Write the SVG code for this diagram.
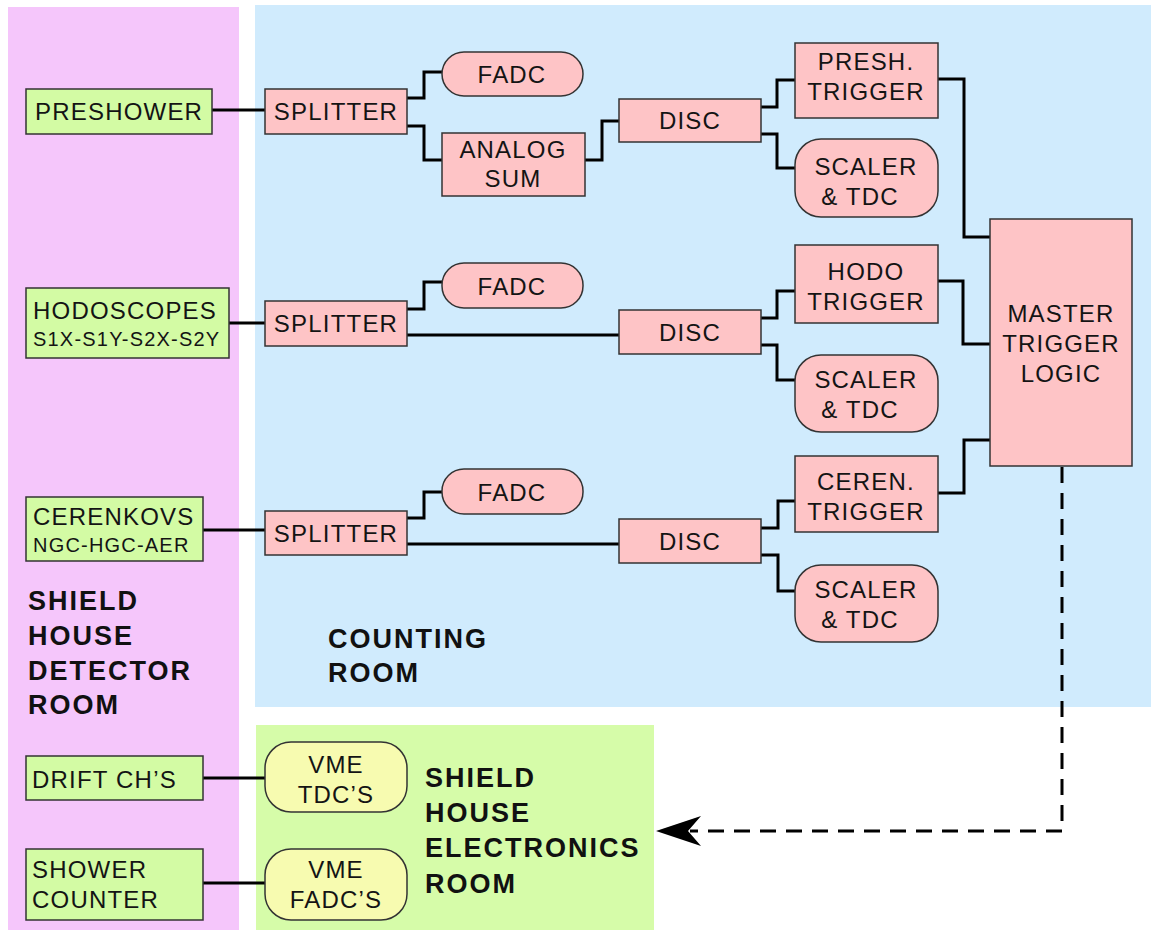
<svg xmlns="http://www.w3.org/2000/svg" width="1151" height="932" viewBox="0 0 1151 932">
<style>
.bg{stroke:none}
.g{fill:#d3fba4;stroke:#333;stroke-width:1.5}
.p{fill:#fec4c6;stroke:#333;stroke-width:1.5}
.y{fill:#f7fbb0;stroke:#333;stroke-width:1.5}
.t{font-family:"Liberation Sans",Arial,sans-serif;font-size:24px;letter-spacing:1.2px;fill:#141414}
.c{text-anchor:middle}
.s{font-size:20px}
.b{font-family:"Liberation Sans",Arial,sans-serif;font-weight:bold;font-size:27px;letter-spacing:2px;fill:#111}
.w{fill:none;stroke:#000;stroke-width:3}
.d{fill:none;stroke:#000;stroke-width:3;stroke-dasharray:16 10}
</style>
<rect width="1151" height="932" fill="#fff"/>
<g id="rooms">
<rect class="bg" x="8" y="7" width="231" height="923" fill="#f5c6fb"/>
<rect class="bg" x="255" y="5" width="896" height="702" fill="#d0ebfd"/>
<rect class="bg" x="256" y="725" width="398" height="205" fill="#d6fca9"/>
<text class="b" x="28" y="610">SHIELD</text>
<text class="b" x="28" y="645">HOUSE</text>
<text class="b" x="28" y="680">DETECTOR</text>
<text class="b" x="28" y="714">ROOM</text>
<text class="b" x="328" y="648">COUNTING</text>
<text class="b" x="328" y="682">ROOM</text>
<text class="b" x="425" y="787">SHIELD</text>
<text class="b" x="425" y="822">HOUSE</text>
<text class="b" x="425" y="857">ELECTRONICS</text>
<text class="b" x="425" y="893">ROOM</text>
</g>
<g id="connectors">
<path class="w" d="M212,110H265"/>
<path class="w" d="M407,98H424V72H442"/>
<path class="w" d="M407,126H424V160H442"/>
<path class="w" d="M585,160H602V121H619"/>
<path class="w" d="M761,107H777V80H795"/>
<path class="w" d="M761,134H777V168H795"/>
<path class="w" d="M938,79H964V237H990"/>
<path class="w" d="M229,323H265"/>
<path class="w" d="M407,309H424V282H442"/>
<path class="w" d="M407,335H619"/>
<path class="w" d="M761,318H777V291H795"/>
<path class="w" d="M761,345H777V380H795"/>
<path class="w" d="M938,281H963V344H990"/>
<path class="w" d="M203,530H265"/>
<path class="w" d="M407,518H424V492H442"/>
<path class="w" d="M407,544H619"/>
<path class="w" d="M761,528H778V501H795"/>
<path class="w" d="M761,555H778V591H795"/>
<path class="w" d="M938,493H964V440H990"/>
<path class="w" d="M203,778H265"/>
<path class="w" d="M203,883H265"/>
<path class="d" d="M1062,467V831H690"/>
<path d="M656,831L701,816L688,831L701,846Z" fill="#000"/>
</g>
<g id="preshower"><rect class="g" x="26" y="89" width="186" height="45"/><text class="t" x="35" y="120">PRESHOWER</text></g>
<g id="splitter1"><rect class="p" x="265" y="89" width="142" height="45"/><text class="t c" x="336" y="120">SPLITTER</text></g>
<g id="fadc1"><rect class="p" x="442" y="52" width="141" height="44" rx="22"/><text class="t c" x="512" y="83">FADC</text></g>
<g id="analogsum"><rect class="p" x="442" y="133" width="143" height="63"/><text class="t c" x="513" y="158">ANALOG</text><text class="t c" x="513" y="187">SUM</text></g>
<g id="disc1"><rect class="p" x="619" y="99" width="142" height="43"/><text class="t c" x="690" y="129">DISC</text></g>
<g id="preshtrigger"><rect class="p" x="795" y="43" width="143" height="75"/><text class="t c" x="866" y="70">PRESH.</text><text class="t c" x="866" y="100">TRIGGER</text></g>
<g id="scaler1"><rect class="p" x="795" y="139" width="143" height="78" rx="26"/><text class="t c" x="866" y="175">SCALER</text><text class="t c" x="860" y="205">&amp; TDC</text></g>
<g id="master"><rect class="p" x="990" y="219" width="142" height="247"/><text class="t c" x="1061" y="322">MASTER</text><text class="t c" x="1061" y="352">TRIGGER</text><text class="t c" x="1061" y="382">LOGIC</text></g>
<g id="hodoscopes"><rect class="g" x="26" y="288" width="203" height="70"/><text class="t" x="33" y="319">HODOSCOPES</text><text class="t s" x="33" y="346">S1X-S1Y-S2X-S2Y</text></g>
<g id="splitter2"><rect class="p" x="265" y="301" width="142" height="45"/><text class="t c" x="336" y="332">SPLITTER</text></g>
<g id="fadc2"><rect class="p" x="442" y="263" width="141" height="45" rx="22"/><text class="t c" x="512" y="295">FADC</text></g>
<g id="disc2"><rect class="p" x="619" y="310" width="142" height="44"/><text class="t c" x="690" y="341">DISC</text></g>
<g id="hodotrigger"><rect class="p" x="795" y="245" width="143" height="78"/><text class="t c" x="866" y="280">HODO</text><text class="t c" x="866" y="310">TRIGGER</text></g>
<g id="scaler2"><rect class="p" x="795" y="355" width="143" height="77" rx="26"/><text class="t c" x="866" y="388">SCALER</text><text class="t c" x="860" y="418">&amp; TDC</text></g>
<g id="cerenkovs"><rect class="g" x="26" y="497" width="177" height="64"/><text class="t" x="33" y="525">CERENKOVS</text><text class="t s" x="33" y="552">NGC-HGC-AER</text></g>
<g id="splitter3"><rect class="p" x="265" y="511" width="142" height="44"/><text class="t c" x="336" y="542">SPLITTER</text></g>
<g id="fadc3"><rect class="p" x="442" y="469" width="141" height="45" rx="22"/><text class="t c" x="512" y="501">FADC</text></g>
<g id="disc3"><rect class="p" x="619" y="519" width="142" height="44"/><text class="t c" x="690" y="550">DISC</text></g>
<g id="cerentrigger"><rect class="p" x="795" y="456" width="143" height="76"/><text class="t c" x="866" y="490">CEREN.</text><text class="t c" x="866" y="520">TRIGGER</text></g>
<g id="scaler3"><rect class="p" x="795" y="565" width="143" height="77" rx="26"/><text class="t c" x="866" y="598">SCALER</text><text class="t c" x="860" y="628">&amp; TDC</text></g>
<g id="driftch"><rect class="g" x="26" y="756" width="177" height="44"/><text class="t" x="32" y="788">DRIFT CH’S</text></g>
<g id="vmetdc"><rect class="y" x="265" y="742" width="142" height="70" rx="26"/><text class="t c" x="336" y="773">VME</text><text class="t c" x="336" y="803">TDC’S</text></g>
<g id="showercounter"><rect class="g" x="26" y="849" width="177" height="71"/><text class="t" x="32" y="878">SHOWER</text><text class="t" x="32" y="908">COUNTER</text></g>
<g id="vmefadc"><rect class="y" x="265" y="849" width="142" height="71" rx="26"/><text class="t c" x="336" y="878">VME</text><text class="t c" x="336" y="908">FADC’S</text></g>
</svg>
